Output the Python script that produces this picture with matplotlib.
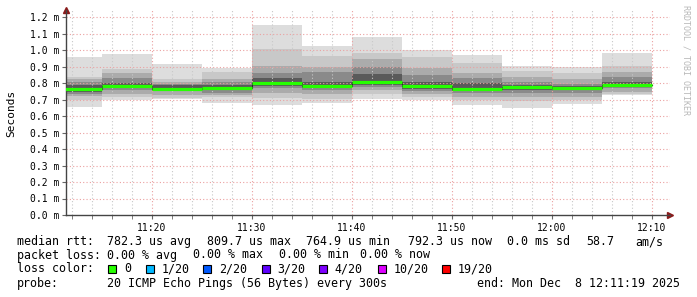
import numpy as np
import matplotlib.pyplot as plt
from matplotlib.patches import Rectangle

# 5 minute steps, x in minutes after 11:00
edges = [10, 15, 20, 25, 30, 35, 40, 45, 50, 55, 60, 65, 70]
median = [0.762, 0.783, 0.766, 0.771, 0.803, 0.783, 0.809, 0.780, 0.765, 0.774, 0.770, 0.790]

# smoke bands per step, outermost first (ms)
smoke_hi = [
    [0.959, 0.838, 0.822, 0.808, 0.785],
    [0.976, 0.883, 0.859, 0.828, 0.798],
    [0.915, 0.822, 0.806, 0.795, 0.786],
    [0.893, 0.869, 0.826, 0.806, 0.790],
    [1.153, 1.004, 0.903, 0.859, 0.828],
    [1.024, 0.964, 0.899, 0.869, 0.808],
    [1.081, 0.984, 0.944, 0.899, 0.855],
    [1.000, 0.959, 0.889, 0.848, 0.808],
    [0.972, 0.923, 0.862, 0.828, 0.798],
    [0.903, 0.875, 0.838, 0.808, 0.790],
    [0.895, 0.859, 0.822, 0.794, 0.782],
    [0.984, 0.903, 0.869, 0.834, 0.805],
]
smoke_lo = [
    [0.656, 0.697, 0.721, 0.733, 0.745],
    [0.697, 0.713, 0.733, 0.758, 0.770],
    [0.701, 0.709, 0.729, 0.750, 0.758],
    [0.681, 0.713, 0.730, 0.741, 0.755],
    [0.668, 0.707, 0.737, 0.768, 0.780],
    [0.677, 0.701, 0.733, 0.758, 0.770],
    [0.701, 0.733, 0.758, 0.778, 0.790],
    [0.697, 0.713, 0.733, 0.753, 0.765],
    [0.669, 0.697, 0.717, 0.737, 0.750],
    [0.648, 0.693, 0.713, 0.741, 0.758],
    [0.673, 0.697, 0.717, 0.741, 0.755],
    [0.725, 0.731, 0.747, 0.768, 0.778],
]
smoke_grays = ['#dddddd', '#c8c8c8', '#ababab', '#8a8a8a', '#5a5a5a']

y_ticks = [0.0, 0.1, 0.2, 0.3, 0.4, 0.5, 0.6, 0.7, 0.8, 0.9, 1.0, 1.1, 1.2]
x_ticks = [20, 30, 40, 50, 60, 70]
x_labels = ['11:20', '11:30', '11:40', '11:50', '12:00', '12:10']

loss_labels = ['0', '1/20', '2/20', '3/20', '4/20', '10/20', '19/20']
loss_colors = ['#26ff00', '#00b8ff', '#0059ff', '#5e00ff', '#7e00ff', '#dd00ff', '#ff0000']

rtt_parts = ['782.3 us avg', '809.7 us max', '764.9 us min', '792.3 us now', '0.0 ms sd', '58.7', 'am/s']
loss_parts = ['0.00 % avg', '0.00 % max', '0.00 % min', '0.00 % now']

W, H = 697, 297
mono = 'DejaVu Sans Mono'


def fx(px):
    return px / W


def fy(py):
    return 1 - py / H


fig = plt.figure(figsize=(W / 100, H / 100), dpi=100)
ax = fig.add_axes([fx(66), fy(215), fx(670) - fx(66), fy(10.4) - fy(215)])
ax.set_xlim(11.4, 71.8)
ax.set_ylim(0, 1.24)

# smoke
for i in range(len(median)):
    x0, x1 = edges[i], edges[i + 1]
    for j in range(len(smoke_grays)):
        ax.fill_between([x0, x1], smoke_lo[i][j], smoke_hi[i][j],
                        color=smoke_grays[j], lw=0, zorder=1)

# grid on top of smoke
minor_x = [m for m in range(12, 71, 2) if m not in x_ticks]
for m in minor_x:
    ax.axvline(m, color='#c8c8c8', lw=0.8, ls=(0, (1, 2)), zorder=2)
for m in x_ticks:
    ax.axvline(m, color='#eba0a0', lw=0.8, ls=(0, (1, 2)), zorder=2)
for v in y_ticks[1:]:
    ax.axhline(v, color='#eba0a0', lw=0.8, ls=(0, (1, 2)), zorder=2)

# median rtt
ax.step(edges, median + [median[-1]], where='post', color='#222222', lw=0.8, zorder=3)
ax.hlines(median, edges[:-1], edges[1:], color=loss_colors[0], lw=2.3, zorder=4)

for s in ['top', 'right']:
    ax.spines[s].set_visible(False)
for s in ['left', 'bottom']:
    ax.spines[s].set_color('#444444')
    ax.spines[s].set_linewidth(1.0)
ax.plot(0, 1, marker='^', color='#8b1a1a', ms=4, transform=ax.transAxes, clip_on=False)
ax.plot(1, 0, marker='>', color='#8b1a1a', ms=4, transform=ax.transAxes, clip_on=False)

ax.set_yticks(y_ticks)
ax.set_yticklabels([f'{v:.1f} m' for v in y_ticks], family=mono, fontsize=7)
ax.set_xticks(x_ticks)
ax.set_xticklabels(x_labels, family=mono, fontsize=7)
ax.set_xticks(list(range(12, 71, 2)), minor=True)
ax.tick_params(axis='y', length=3, pad=2, color='#666666')
ax.tick_params(axis='x', which='both', length=3, pad=3, color='#666666')

fig.text(fx(11), fy(113), 'Seconds', rotation=90, family=mono, fontsize=8,
         ha='center', va='center')
fig.text(fx(686), fy(5), 'RRDTOOL / TOBI OETIKER', rotation=270, family=mono,
         fontsize=6, color='#b8b8b8', ha='center', va='top')

fs = 8.4
row_y = [241.7, 255.0, 269.0, 283.3]
fig.text(fx(16.7), fy(row_y[0]), 'median rtt:', family=mono, fontsize=fs, va='center')
for txt, px in zip(rtt_parts, [107.3, 207.3, 306.0, 408.3, 506.7, 586.7, 635.0]):
    fig.text(fx(px), fy(row_y[0]), txt, family=mono, fontsize=fs, va='center')

fig.text(fx(16.7), fy(row_y[1]), 'packet loss:', family=mono, fontsize=fs, va='center')
for txt, px in zip(loss_parts, [106.7, 193.3, 279.3, 360.0]):
    fig.text(fx(px), fy(row_y[1]), txt, family=mono, fontsize=fs, va='center')

fig.text(fx(16.7), fy(row_y[2]), 'loss color:', family=mono, fontsize=fs, va='center')
for txt, col, px in zip(loss_labels, loss_colors, [108.3, 145.7, 203.3, 261.7, 319.3, 377.7, 442.3]):
    fig.patches.append(Rectangle((fx(px), fy(row_y[2] + 4)), fx(8), 8 / H,
                                 transform=fig.transFigure, facecolor=col,
                                 edgecolor='black', lw=0.8))
    fig.text(fx(px + 15.5), fy(row_y[2]), txt, family=mono, fontsize=fs, va='center')

fig.text(fx(16.7), fy(row_y[3]), 'probe:', family=mono, fontsize=fs, va='center')
fig.text(fx(107.3), fy(row_y[3]), '20 ICMP Echo Pings (56 Bytes) every 300s',
         family=mono, fontsize=fs, va='center')
fig.text(fx(680), fy(row_y[3]), 'end: Mon Dec  8 12:11:19 2025',
         family=mono, fontsize=fs, va='center', ha='right')

fig.savefig('out.png', dpi=100)
